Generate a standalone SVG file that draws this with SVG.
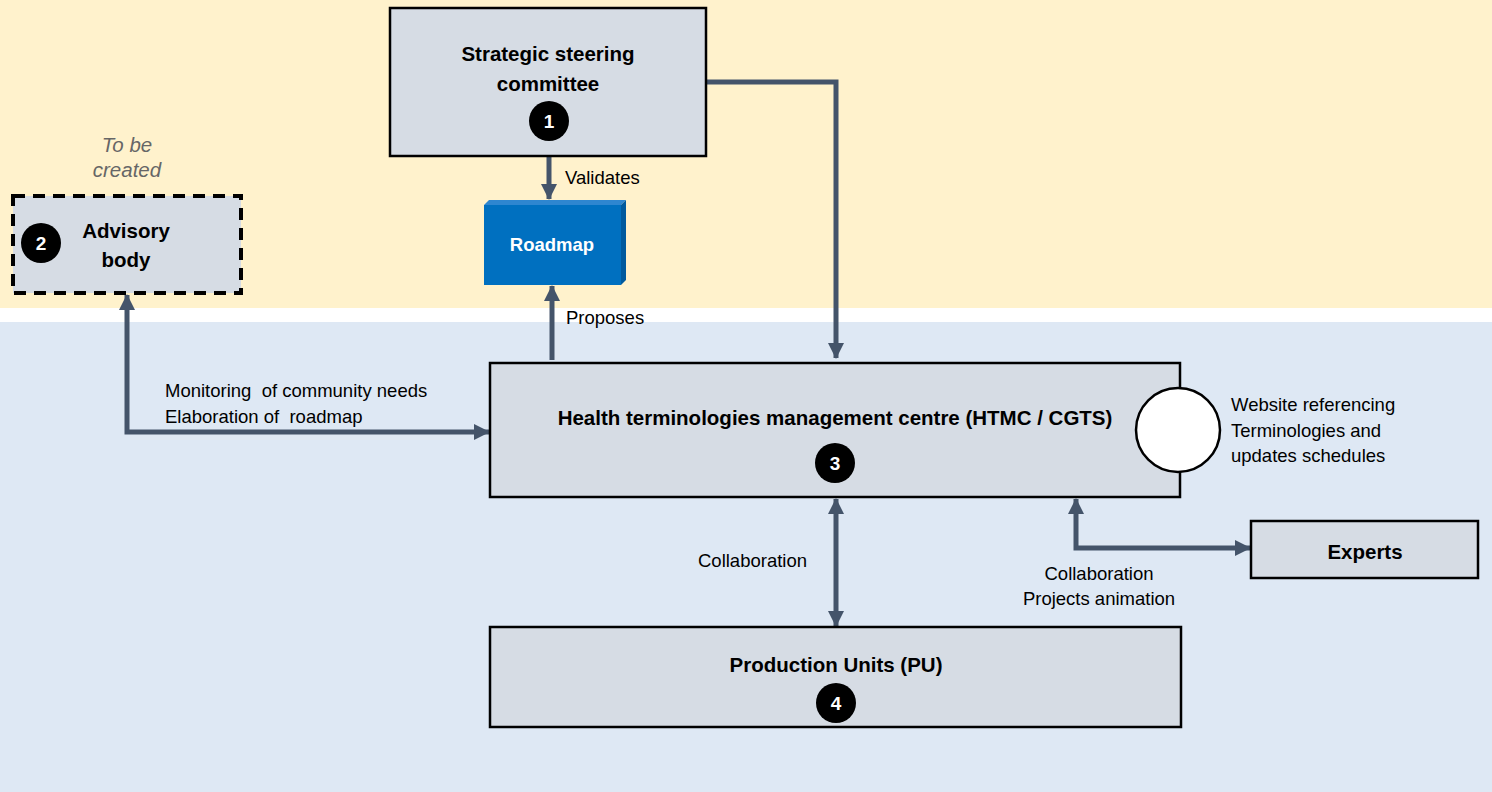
<svg xmlns="http://www.w3.org/2000/svg" width="1492" height="792" viewBox="0 0 1492 792">
<style>
.box{fill:#D6DCE4;stroke:#000;stroke-width:2.5}
.t{font-family:"Liberation Sans",Arial,sans-serif;font-size:20.5px;font-weight:bold;fill:#000;text-anchor:middle}
.l{font-family:"Liberation Sans",Arial,sans-serif;font-size:18.5px;fill:#000;white-space:pre}
.badge{fill:#000}
.bt{font-family:"Liberation Sans",Arial,sans-serif;font-size:19px;font-weight:bold;fill:#fff;text-anchor:middle}
.c{fill:none;stroke:#44546A;stroke-width:5}
</style>
<defs>
<marker id="ah" markerUnits="userSpaceOnUse" markerWidth="16" markerHeight="16" viewBox="0 0 16 16" refX="15" refY="8" orient="auto-start-reverse">
<path d="M0,0 L16,8 L0,16 Z" fill="#44546A"/>
</marker>
</defs>
<rect x="0" y="0" width="1492" height="308" fill="#FFF2CC"/>
<rect x="0" y="308" width="1492" height="14" fill="#FFFFFF"/>
<rect x="0" y="322" width="1492" height="470" fill="#DEE8F4"/>

<g id="connectors">
<path class="c" d="M706,82 H836 V358" marker-end="url(#ah)"/>
<path class="c" d="M549,157 V199" marker-end="url(#ah)"/>
<path class="c" d="M552,360 V286" marker-end="url(#ah)"/>
<path class="c" d="M127,295 V432 H489" marker-start="url(#ah)" marker-end="url(#ah)"/>
<path class="c" d="M836,499 V626" marker-start="url(#ah)" marker-end="url(#ah)"/>
<path class="c" d="M1076,499 V548 H1250" marker-start="url(#ah)" marker-end="url(#ah)"/>
<text class="l" x="565" y="184">Validates</text>
<text class="l" x="566" y="324">Proposes</text>
<text class="l" x="165" y="397" xml:space="preserve">Monitoring  of community needs</text>
<text class="l" x="165" y="423" xml:space="preserve">Elaboration of  roadmap</text>
<text class="l" x="698" y="567">Collaboration</text>
<text class="l" x="1099" y="580" text-anchor="middle">Collaboration</text>
<text class="l" x="1099" y="605" text-anchor="middle">Projects animation</text>
</g>

<g id="strategic">
<rect class="box" x="390" y="8" width="316" height="148"/>
<text class="t" x="548" y="61">Strategic steering</text>
<text class="t" x="548" y="91">committee</text>
<circle class="badge" cx="549" cy="121" r="20"/>
<text class="bt" x="549" y="128">1</text>
</g>

<g id="roadmap">
<polygon points="484,205 489,200 626,200 621,205" fill="#2E86D0"/>
<polygon points="621,205 626,200 626,280 621,285" fill="#005A9E"/>
<rect x="484" y="205" width="137" height="80" fill="#0070C0"/>
<text x="552" y="251" font-family="Liberation Sans,Arial,sans-serif" font-size="18.5" font-weight="bold" fill="#fff" text-anchor="middle">Roadmap</text>
</g>

<g id="advisory">
<text x="127" y="152" font-family="Liberation Sans,Arial,sans-serif" font-size="20.5" font-style="italic" fill="#666" text-anchor="middle">To be</text>
<text x="127" y="177" font-family="Liberation Sans,Arial,sans-serif" font-size="20.5" font-style="italic" fill="#666" text-anchor="middle">created</text>
<rect x="13" y="196" width="228" height="97" fill="#D6DCE4" stroke="#000" stroke-width="4" stroke-dasharray="12,8"/>
<text class="t" x="126" y="238">Advisory</text>
<text class="t" x="126" y="267">body</text>
<circle class="badge" cx="41" cy="243" r="20"/>
<text class="bt" x="41" y="250">2</text>
</g>

<g id="htmc">
<rect class="box" x="490" y="363" width="690" height="134"/>
<text class="t" x="835" y="425">Health terminologies management centre (HTMC / CGTS)</text>
<circle class="badge" cx="835" cy="463" r="20"/>
<text class="bt" x="835" y="470">3</text>
</g>

<g id="website">
<circle cx="1178" cy="430" r="42" fill="#fff" stroke="#000" stroke-width="2.5"/>
<text class="l" x="1231" y="411">Website referencing</text>
<text class="l" x="1231" y="437">Terminologies and</text>
<text class="l" x="1231" y="462">updates schedules</text>
</g>

<g id="experts">
<rect class="box" x="1251" y="521" width="227" height="57"/>
<text class="t" x="1365" y="559">Experts</text>
</g>

<g id="production">
<rect class="box" x="490" y="627" width="691" height="100"/>
<text class="t" x="836" y="672">Production Units (PU)</text>
<circle class="badge" cx="836" cy="703" r="20"/>
<text class="bt" x="836" y="710">4</text>
</g>
</svg>
